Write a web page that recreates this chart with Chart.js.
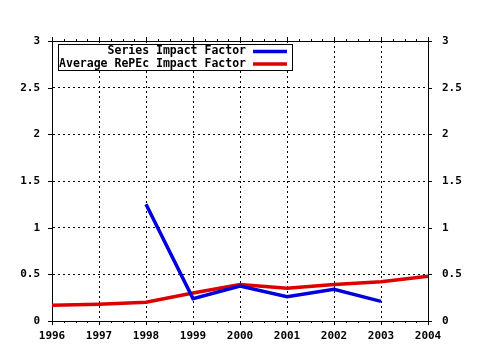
<!DOCTYPE html>
<html><head><meta charset="utf-8">
<script src="https://cdn.jsdelivr.net/npm/chart.js@4"></script>
<style>html,body{margin:0;padding:0;background:#fff}canvas{display:block}</style>
</head><body>
<canvas id="c" width="480" height="350"></canvas>
<script>
const years = ['1996','1997','1998','1999','2000','2001','2002','2003','2004'];
const seriesImpactFactor = [null, null, 1.25, 0.24, 0.375, 0.26, 0.34, 0.21, null];
const repecImpactFactor = [0.17, 0.18, 0.20, 0.30, 0.39, 0.35, 0.39, 0.42, 0.48];
const seriesNames = ['Series Impact Factor', 'Average RePEc Impact Factor'];
const seriesColors = ['#0000dd', '#dd0000'];

const tickFont = {family: 'DejaVu Sans Mono', size: 11, weight: 'bold'};
const fmt = v => String(Math.round(v * 10) / 10);

const framePlugin = {
  id: 'frame',
  afterDraw(chart) {
    const ctx = chart.ctx, a = chart.chartArea, x = chart.scales.x;
    ctx.save();
    ctx.strokeStyle = '#000';
    ctx.lineWidth = 1;
    ctx.setLineDash([]);
    ctx.beginPath();
    ctx.moveTo(a.left, a.top + 0.5); ctx.lineTo(a.right, a.top + 0.5);
    for (let i = 0; i < years.length; i++) {
      const px = Math.round(x.getPixelForValue(i)) + 0.5;
      ctx.moveTo(px, a.bottom); ctx.lineTo(px, a.bottom + 4);
      ctx.moveTo(px, a.top); ctx.lineTo(px, a.top - 4);
      if (i < years.length - 1) {
        const nx = x.getPixelForValue(i + 1);
        for (let k = 1; k < 4; k++) {
          const mx = Math.round(px + (nx - px) * k / 4) + 0.5;
          ctx.moveTo(mx, a.bottom); ctx.lineTo(mx, a.bottom + 2);
          ctx.moveTo(mx, a.top); ctx.lineTo(mx, a.top - 2);
        }
      }
    }
    const y = chart.scales.y;
    y.ticks.forEach(t => {
      const py = Math.round(y.getPixelForValue(t.value)) + 0.5;
      ctx.moveTo(a.left - 4, py); ctx.lineTo(a.left, py);
      ctx.moveTo(a.right, py); ctx.lineTo(a.right + 4, py);
    });
    ctx.stroke();

    const lx = 58.5, ly = 44.5, lw = 234, lh = 26;
    ctx.fillStyle = '#fff';
    ctx.fillRect(lx, ly, lw, lh);
    ctx.strokeRect(lx, ly, lw, lh);
    ctx.font = 'bold 11.5px "DejaVu Sans Mono"';
    ctx.textAlign = 'right';
    ctx.textBaseline = 'middle';
    ctx.fillStyle = '#000';
    const rows = [51.5, 64];
    seriesNames.forEach((n, i) => {
      ctx.fillText(n, 246, rows[i]);
      ctx.strokeStyle = seriesColors[i];
      ctx.lineWidth = 3.5;
      ctx.beginPath();
      ctx.moveTo(253, rows[i]); ctx.lineTo(287, rows[i]);
      ctx.stroke();
    });
    ctx.restore();
  }
};

new Chart(document.getElementById('c'), {
  type: 'line',
  data: {
    labels: years,
    datasets: [
      {label: seriesNames[0], data: seriesImpactFactor, borderColor: seriesColors[0], borderWidth: 3.5, pointRadius: 0, tension: 0, spanGaps: false, borderJoinStyle: 'miter'},
      {label: seriesNames[1], data: repecImpactFactor, borderColor: seriesColors[1], borderWidth: 3.5, pointRadius: 0, tension: 0, borderJoinStyle: 'miter'}
    ]
  },
  options: {
    responsive: false,
    animation: false,
    layout: {padding: {top: 41, left: 0, right: 0, bottom: 0}},
    plugins: {legend: {display: false}, tooltip: {enabled: false}},
    scales: {
      x: {
        type: 'category', offset: false,
        grid: {color: '#000', lineWidth: 1, drawTicks: false},
        border: {display: true, color: '#000', width: 1, dash: [2, 3]},
        ticks: {font: tickFont, color: '#000', padding: 9, maxRotation: 0, autoSkip: false},
        afterFit: s => { s.height = 29; }
      },
      y: {
        position: 'left', min: 0, max: 3,
        grid: {color: '#000', lineWidth: 1, drawTicks: false},
        border: {display: true, color: '#000', width: 1, dash: [2, 3]},
        ticks: {stepSize: 0.5, font: tickFont, color: '#000', padding: 12, callback: fmt},
        afterFit: s => { s.width = 52; }
      },
      y2: {
        position: 'right', min: 0, max: 3,
        grid: {display: false, drawTicks: false},
        border: {display: true, color: '#000', width: 1},
        ticks: {stepSize: 0.5, font: tickFont, color: '#000', padding: 14, callback: fmt},
        afterFit: s => { s.width = 52; }
      }
    }
  },
  plugins: [framePlugin]
});
</script>
</body></html>
